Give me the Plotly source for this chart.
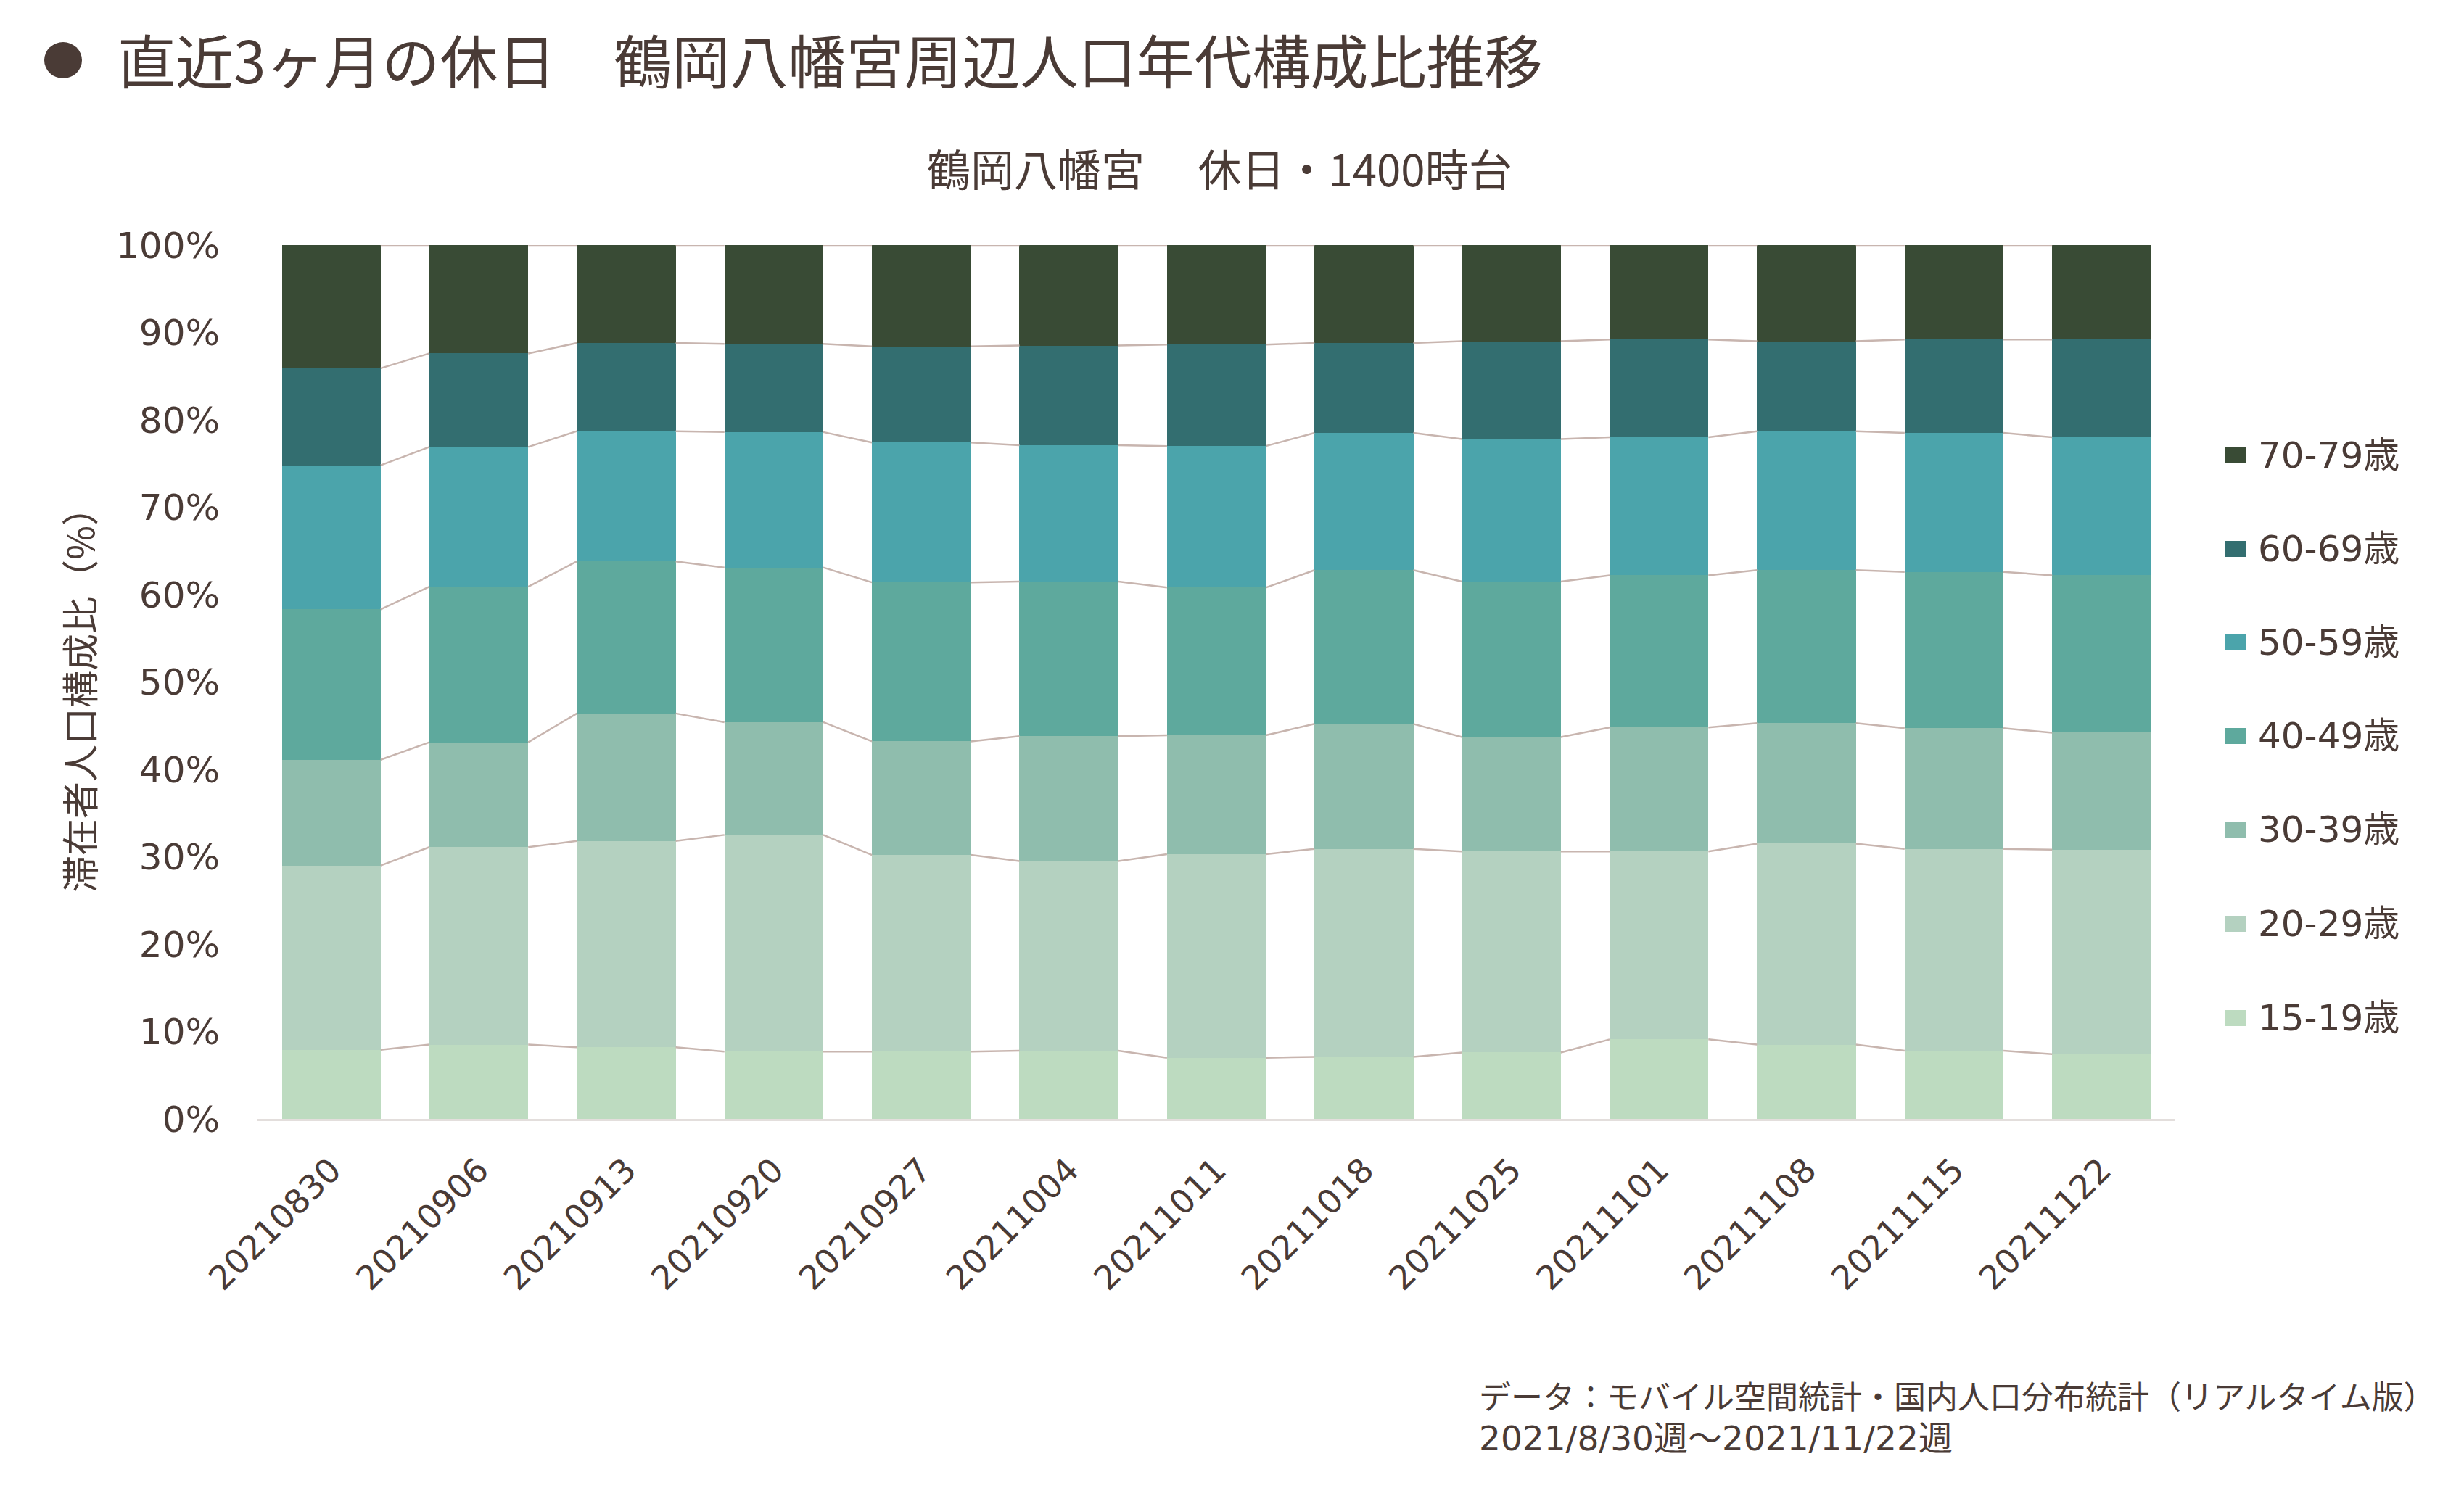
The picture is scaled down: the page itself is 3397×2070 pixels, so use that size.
import plotly.graph_objects as go

dates = ["20210830", "20210906", "20210913", "20210920", "20210927", "20211004", "20211011",
         "20211018", "20211025", "20211101", "20211108", "20211115", "20211122"]

age_15_19 = [7.9, 8.5, 8.2, 7.7, 7.7, 7.8, 7.0, 7.1, 7.6, 9.1, 8.5, 7.8, 7.4]
age_20_29 = [21.1, 22.6, 23.6, 24.8, 22.5, 21.7, 23.3, 23.8, 23.0, 21.5, 23.0, 23.1, 23.4]
age_30_39 = [12.1, 12.0, 14.6, 12.9, 13.0, 14.3, 13.6, 14.3, 13.1, 14.2, 13.8, 13.8, 13.4]
age_40_49 = [17.2, 17.8, 17.4, 17.7, 18.2, 17.7, 16.9, 17.6, 17.8, 17.4, 17.5, 17.9, 18.0]
age_50_59 = [16.5, 16.0, 14.9, 15.5, 16.0, 15.6, 16.2, 15.7, 16.3, 15.8, 15.9, 15.9, 15.8]
age_60_69 = [11.1, 10.7, 10.1, 10.1, 11.0, 11.4, 11.6, 10.3, 11.2, 11.2, 10.3, 10.7, 11.2]
age_70_79 = [14.1, 12.4, 11.2, 11.3, 11.6, 11.5, 11.4, 11.2, 11.0, 10.8, 11.0, 10.8, 10.8]

series_names = ["15-19歳", "20-29歳", "30-39歳", "40-49歳", "50-59歳", "60-69歳", "70-79歳"]
series_values = [age_15_19, age_20_29, age_30_39, age_40_49, age_50_59, age_60_69, age_70_79]
series_colors = ["#BDDBC0", "#B4D1C0", "#8FBDAD", "#5EA99D", "#4BA4AB", "#336E70", "#394B35"]

y_tick_vals = [0, 10, 20, 30, 40, 50, 60, 70, 80, 90, 100]
y_tick_text = ["0%", "10%", "20%", "30%", "40%", "50%", "60%", "70%", "80%", "90%", "100%"]

TXT = "#4A3B36"
FONT = "DejaVu Sans, Noto Sans CJK JP, sans-serif"
CJK = "Noto Sans CJK JP, sans-serif"
BAR_W = 0.67
xs = list(range(len(dates)))

W, H = 3397, 2070
PL, PR, PT, PB = 355, 2999, 338, 1543


def xp(px):
    return (px - PL) / (PR - PL)


def yp(py):
    return (PB - py) / (PB - PT)


fig = go.Figure()

for name, vals, col in zip(series_names, series_values, series_colors):
    fig.add_trace(go.Bar(x=xs, y=vals, name=name, marker=dict(color=col, line=dict(width=0)),
                         width=BAR_W, showlegend=False))

# series lines connecting stacked tops
cum = [0.0] * len(dates)
for vals in series_values:
    cum = [c + v for c, v in zip(cum, vals)]
    lx, ly = [], []
    for i in range(len(dates) - 1):
        lx += [i + BAR_W / 2, i + 1 - BAR_W / 2, None]
        ly += [cum[i], cum[i + 1], None]
    fig.add_trace(go.Scatter(x=lx, y=ly, mode="lines", line=dict(color="#C8B5AF", width=2.5),
                             showlegend=False, hoverinfo="skip"))

fig.update_layout(
    width=W, height=H,
    margin=dict(l=PL, r=W - PR, t=PT, b=H - PB),
    paper_bgcolor="white", plot_bgcolor="white",
    barmode="stack",
    font=dict(family=FONT, color=TXT, size=50),
    showlegend=False,
    xaxis=dict(range=[-0.5, 12.5], tickvals=xs, ticktext=dates, tickangle=-45,
               showline=True, linecolor="#E3DEDC", linewidth=3, showgrid=False, zeroline=False,
               ticks="outside", ticklen=22, tickcolor="rgba(0,0,0,0)",
               tickfont=dict(size=46, family=FONT, color=TXT)),
    yaxis=dict(range=[0, 100], tickvals=y_tick_vals, ticktext=y_tick_text, showgrid=False,
               zeroline=False, showline=False, ticks="outside", ticklen=41,
               tickcolor="rgba(0,0,0,0)", tickfont=dict(size=50, family=FONT, color=TXT)),
)

# legend (top: 70-79歳 ... bottom: 15-19歳)
legend_centers = [628, 757, 886, 1015, 1144, 1274, 1404]
for name, col, cy in zip(reversed(series_names), reversed(series_colors), legend_centers):
    fig.add_shape(type="rect", xref="paper", yref="paper",
                  x0=xp(3068), x1=xp(3096), y0=yp(cy + 11), y1=yp(cy - 11),
                  fillcolor=col, line=dict(width=0))
    fig.add_annotation(text=name, xref="paper", yref="paper", x=xp(3111), y=yp(cy),
                       xanchor="left", yanchor="middle", showarrow=False,
                       font=dict(size=50, family=FONT, color=TXT))

fig.add_shape(type="circle", xref="paper", yref="paper",
              x0=xp(61), x1=xp(113), y0=yp(108), y1=yp(58),
              fillcolor=TXT, line=dict(width=0))

fig.add_annotation(text="直近3ヶ月の休日　鶴岡八幡宮周辺人口年代構成比推移", xref="paper", yref="paper",
                   x=xp(160), y=yp(80), xanchor="left", yanchor="middle",
                   showarrow=False, font=dict(size=80, family=CJK, color=TXT))

fig.add_annotation(text="鶴岡八幡宮　 休日・1400時台", xref="paper", yref="paper",
                   x=xp(1681), y=yp(230), xanchor="center", yanchor="middle",
                   showarrow=False, font=dict(size=60, family=CJK, color=TXT))

fig.add_annotation(text="滞在者人口構成比（%）", xref="paper", yref="paper",
                   x=xp(108), y=yp(953), xanchor="center", yanchor="middle",
                   textangle=-90, showarrow=False, font=dict(size=51, family=CJK, color=TXT))

fig.add_annotation(text="データ：モバイル空間統計・国内人口分布統計（リアルタイム版）<br>"
                        "<span style='font-family:DejaVu Sans, Noto Sans CJK JP;font-size:47px'>"
                        "2021/8/30週～2021/11/22週</span>",
                   xref="paper", yref="paper", x=xp(2037), y=yp(1890),
                   xanchor="left", yanchor="top", align="left", showarrow=False,
                   font=dict(size=44, family=CJK, color=TXT))

fig.write_html("out.html")
